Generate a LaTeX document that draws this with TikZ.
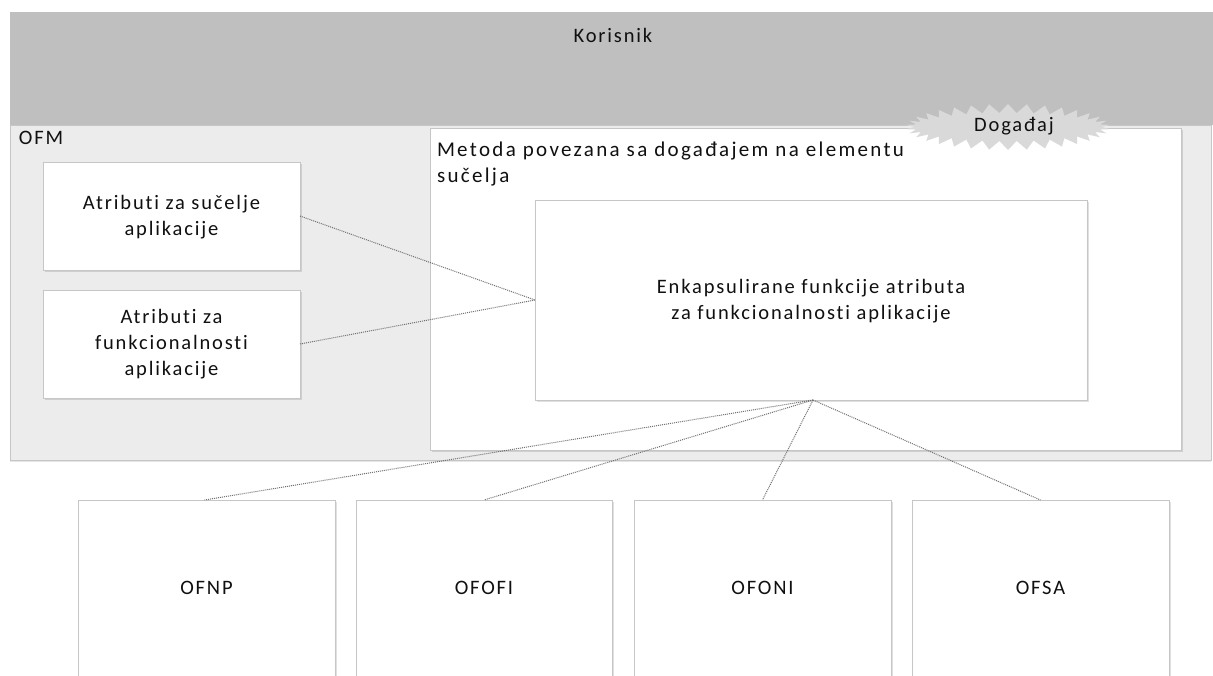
\documentclass[tikz,border=0pt]{standalone}
\usepackage{fontspec}
\setmainfont{Carlito}[Ligatures=NoCommon,LetterSpace=9]
\usetikzlibrary{shapes.symbols,shadows}
\definecolor{bandgray}{HTML}{BFBFBF}
\definecolor{areagray}{HTML}{ECECEC}
\definecolor{edgegray}{HTML}{C6C6C6}
\definecolor{burstgray}{HTML}{D9D9D9}
\definecolor{linegray}{HTML}{707070}
\definecolor{txt}{HTML}{101010}
\begin{document}
\begin{tikzpicture}[x=1pt,y=-1pt,
  every node/.style={inner sep=0pt,outer sep=0pt,text=txt,font=\fontsize{20.5}{26}\selectfont},
  region/.style={rectangle,draw=edgegray,line width=0.8pt,anchor=north west},
  wbox/.style={rectangle,draw=edgegray,fill=white,line width=0.8pt,anchor=north west,
    drop shadow={shadow xshift=1.5pt,shadow yshift=-1.5pt,fill=black,opacity=0.12}},
  lbl/.style={align=center},
  link/.style={draw=linegray,line width=1pt,densely dotted}]
\useasboundingbox (0,0) rectangle (1213,675);
\clip (0,0) rectangle (1213,675);
\fill[white] (0,0) rectangle (1213,675);
% top band
\node[region,fill=bandgray,draw=none,minimum width=1205pt,minimum height=113pt] (kor) at (10,12) {};
\node (kortxt) at (613,35) {Korisnik};
% OFM region
\node[region,fill=areagray,minimum width=1201pt,minimum height=335pt,
  drop shadow={shadow xshift=0pt,shadow yshift=-2pt,fill=black,opacity=0.10}] (ofm) at (10,125) {};
\node[anchor=north west] (ofmtxt) at (19,131) {OFM};
% Metoda box
\node[wbox,minimum width=751pt,minimum height=322pt] (met) at (430,128) {};
\node[anchor=north west,align=left,font=\fontsize{21}{26}\selectfont\addfontfeature{LetterSpace=11}] (mettxt) at (437,142) {Metoda povezana sa događajem na elementu\\sučelja};
% Dogadjaj burst
\node[starburst,starburst points=34,starburst point height=9pt,random starburst=0,
  fill=burstgray,draw=none,minimum width=205pt,minimum height=46pt] (dog) at (1008,127) {};
\node (dogtxt) at (1014,126) {Događaj};
% left boxes
\node[wbox,minimum width=257pt,minimum height=108pt] (asu) at (43,162) {};
\node[lbl] (asutxt) at (171.5,217) {Atributi za sučelje\\aplikacije};
\node[wbox,minimum width=257pt,minimum height=108pt] (afa) at (43,290) {};
\node[lbl] (afatxt) at (171.5,344) {Atributi za\\funkcionalnosti\\aplikacije};
% Enkapsulirane box
\node[wbox,minimum width=552pt,minimum height=200pt] (enk) at (535,200) {};
\node[lbl] (enktxt) at (811,301) {Enkapsulirane funkcije atributa\\za funkcionalnosti aplikacije};
% bottom boxes
\node[wbox,drop shadow={opacity=0},minimum width=257pt,minimum height=200pt] (ofnp) at (78,500) {};
\node (ofnptxt) at (206.5,588) {OFNP};
\node[wbox,drop shadow={opacity=0},minimum width=256pt,minimum height=200pt] (ofofi) at (356,500) {};
\node (ofofitxt) at (484,588) {OFOFI};
\node[wbox,drop shadow={opacity=0},minimum width=257pt,minimum height=200pt] (ofoni) at (634,500) {};
\node (ofonitxt) at (762.5,588) {OFONI};
\node[wbox,drop shadow={opacity=0},minimum width=257pt,minimum height=200pt] (ofsa) at (912,500) {};
\node (ofsatxt) at (1040.5,588) {OFSA};
% connectors
\coordinate (hub) at ([xshift=2pt]enk.south);
\draw[link] (asu.east) -- (enk.west);
\draw[link] (afa.east) -- (enk.west);
\draw[link] (hub) -- ([xshift=-2pt]ofnp.north);
\draw[link] (hub) -- (ofofi.north);
\draw[link] (hub) -- (ofoni.north);
\draw[link] (hub) -- (ofsa.north);
\end{tikzpicture}
\end{document}
